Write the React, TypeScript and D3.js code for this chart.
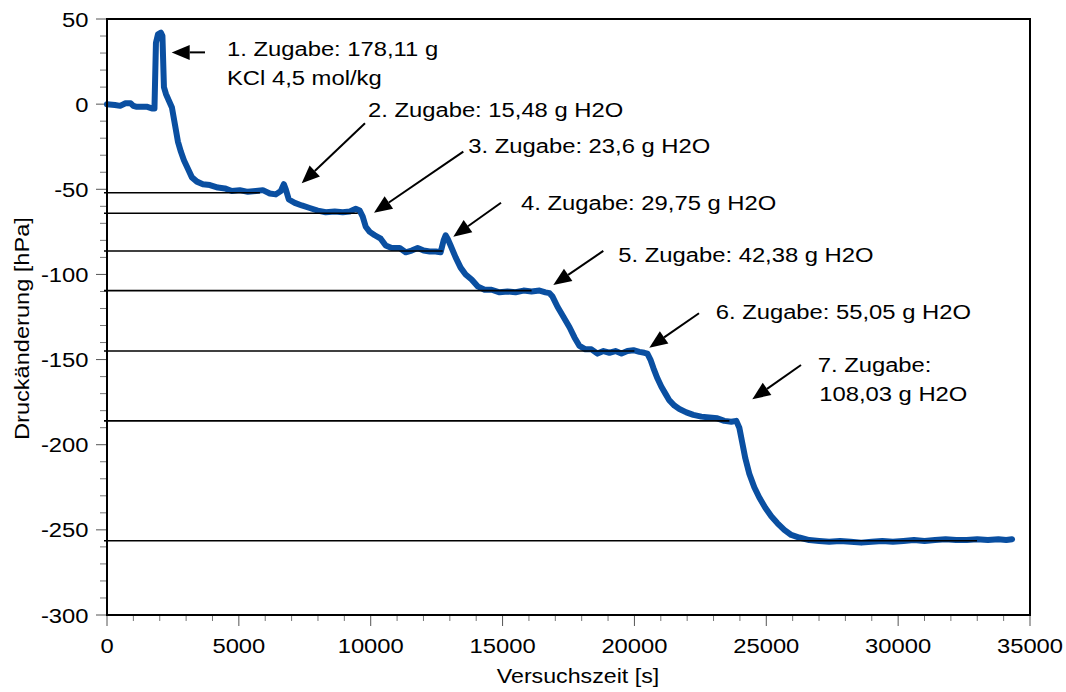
import React from 'react';
import * as d3 from 'd3';

// Pressure record: test time [s] and pressure change [hPa]
const timeS = [
  0, 300, 500, 700, 900, 1000, 1100, 1300, 1500, 1700, 1800,
  1856, 1932, 2045, 2102, 2159, 2235, 2348, 2462, 2576, 2689, 2803, 2917, 3068, 3220,
  3409, 3636, 3902, 4205, 4470, 4735, 5038, 5341, 5644, 5909, 6174, 6402, 6591, 6705,
  6780, 6894, 7121, 7386, 7689, 7992, 8295, 8636, 8939, 9205, 9432, 9583, 9697, 9811,
  9962, 10152, 10379, 10568, 10795, 11098, 11326, 11553, 11780, 12008, 12235, 12462,
  12652, 12765, 12841, 12917, 13030, 13220, 13409, 13599, 13826, 14053, 14318, 14583,
  14886, 15189, 15492, 15795, 16098, 16402, 16629, 16780, 16894, 17083, 17311, 17538,
  17727, 17917, 18144, 18371, 18599, 18826, 19053, 19280, 19508, 19735, 19962, 20189,
  20379, 20492, 20606, 20720, 20871, 21023, 21174, 21326, 21515, 21705, 21970, 22235,
  22538, 22841, 23144, 23409, 23674, 23864, 23977, 24091, 24205, 24356, 24545, 24735,
  24962, 25189, 25417, 25682, 25947, 26250, 26629, 27008, 27386, 27800, 28200, 28600,
  29000, 29400, 29800, 30200, 30600, 31000, 31400, 31800, 32200, 32600, 33000, 33400,
  33800, 34100, 34320,
];
const pressureHPa = [
  0, -0.5, -1, 0.5, 0.5, -1, -1.5, -1.5, -1.5, -2.5, -2.5,
  36, 41, 42, 40, 10, 6, 2, -2, -12, -22, -28, -33, -38, -43,
  -45.5, -47, -47.5, -49, -49.5, -51, -50.5, -51.5, -51, -50.5, -52.5, -53, -51, -47,
  -50, -56, -58, -59.5, -61, -62.5, -63.5, -63, -63.5, -63, -61.5, -62.5, -66, -72,
  -75, -77, -79, -83, -84.5, -84.5, -87, -86, -84.5, -86, -86.5, -86.5,
  -87, -80, -77, -79, -83, -90, -96, -100, -103, -107, -109, -109,
  -110.5, -110, -110.5, -109.5, -110, -109.5, -110.5, -111, -113, -119, -125, -131,
  -137, -142, -144, -144, -146.5, -145, -146, -145, -146.5, -145, -144.5, -145.5,
  -146, -146.5, -150, -155, -161, -166, -170, -174, -177, -179, -181, -182.5,
  -183.5, -184, -184.5, -186, -186.5, -186, -190, -199, -208, -217, -225, -231,
  -237, -242, -246, -250, -253, -254.5, -256, -256.5, -257, -256.5, -257, -257.5,
  -257, -256.5, -257, -256.5, -256, -256.5, -256, -255.5, -256, -256, -255.5, -256,
  -255.5, -256, -255.5,
];

// Reference levels after each addition: value [hPa] and end time [s]
const levelValues = [-52, -64.1, -86.2, -109.5, -145, -186, -256.4];
const levelEnds = [5800, 9510, 12730, 16100, 20000, 23600, 32990];

// Axis ticks
const xTicks = [0, 5000, 10000, 15000, 20000, 25000, 30000, 35000];
const xMinorStep = 1000;
const yTicks = [50, 0, -50, -100, -150, -200, -250, -300];
const yMinorStep = 10;

// Annotation texts (one entry per addition)
const noteLines = [
  ['1. Zugabe: 178,11 g', 'KCl 4,5 mol/kg'],
  ['2. Zugabe: 15,48 g H2O'],
  ['3. Zugabe: 23,6 g H2O'],
  ['4. Zugabe: 29,75 g H2O'],
  ['5. Zugabe: 42,38 g H2O'],
  ['6. Zugabe: 55,05 g H2O'],
  ['7. Zugabe:', '108,03 g H2O'],
];
// Text anchor in chart units [time, pressure]
const noteTextAt: [number, number][] = [
  [4550, 28.2], [9897, -7.4], [13700, -28.9], [15699, -62.2],
  [19389, -92.5], [23082, -126.4], [26950, -157.1],
];
// Arrow tail and tip in chart units
const arrowTail: [number, number][] = [
  [3716, 30.4], [9783, -11.25], [13511, -27.9], [14941, -57.9],
  [18820, -86.2], [22449, -122.8], [26317, -153.2],
];
const arrowTip: [number, number][] = [
  [2453, 30.4], [7383, -46.5], [10125, -63.75], [13132, -77.8],
  [16924, -106.2], [20564, -143.0], [24470, -173.3],
];

const W = 1066;
const H = 692;
const plot = { left: 107, right: 1030, top: 19, bottom: 615 };
const FONT = "'Liberation Sans', Arial, sans-serif";
const BLUE = '#0a4fa1';

function SText({ x, y, size = 20, anchor = 'start', rotate = 0, stretch = 1.16, children }: any) {
  return (
    <g transform={`translate(${x},${y}) rotate(${rotate}) scale(${stretch},1)`}>
      <text x={0} y={0} fontFamily={FONT} fontSize={size} textAnchor={anchor} fill="#000">
        {children}
      </text>
    </g>
  );
}

export default function App() {
  const x = d3.scaleLinear().domain([0, 35000]).range([plot.left, plot.right]);
  const y = d3.scaleLinear().domain([50, -300]).range([plot.top, plot.bottom]);

  const pts = timeS.map((t, i) => [t, pressureHPa[i]] as [number, number]);
  const linePath = d3
    .line<[number, number]>()
    .x((d) => x(d[0]))
    .y((d) => y(d[1]))(pts) as string;

  const xMinor = d3.range(0, 35000 + 1, xMinorStep).filter((v) => v % 5000 !== 0);
  const yMinor = d3.range(-300, 50 + 1, yMinorStep).filter((v) => v % 50 !== 0);

  const arrows = arrowTail.map((tail, i) => {
    const x1 = x(tail[0]);
    const y1 = y(tail[1]);
    const x2 = x(arrowTip[i][0]);
    const y2 = y(arrowTip[i][1]);
    const ang = Math.atan2(y2 - y1, x2 - x1);
    const len = 18;
    const hw = 7.5;
    const bx = x2 - len * Math.cos(ang);
    const by = y2 - len * Math.sin(ang);
    const px = -Math.sin(ang) * hw;
    const py = Math.cos(ang) * hw;
    return (
      <g key={`a${i}`}>
        <line x1={x1} y1={y1} x2={bx} y2={by} stroke="#000" strokeWidth={2} />
        <path d={`M${x2},${y2}L${bx + px},${by + py}L${bx - px},${by - py}Z`} fill="#000" />
      </g>
    );
  });

  return (
    <svg
      width={W}
      height={H}
      viewBox={`0 0 ${W} ${H}`}
      style={{ position: 'absolute', left: 0, top: 0, background: '#fff' }}
    >
      <rect x={0} y={0} width={W} height={H} fill="#fff" />

      {/* minor ticks */}
      {xMinor.map((v) => (
        <line key={`xm${v}`} x1={x(v)} x2={x(v)} y1={plot.bottom} y2={plot.bottom + 6} stroke="#777" strokeWidth={1} />
      ))}
      {yMinor.map((v) => (
        <line key={`ym${v}`} x1={plot.left - 7} x2={plot.left} y1={y(v)} y2={y(v)} stroke="#777" strokeWidth={1} />
      ))}
      {/* major ticks */}
      {xTicks.map((v) => (
        <line key={`xt${v}`} x1={x(v)} x2={x(v)} y1={plot.bottom} y2={plot.bottom + 11} stroke="#555" strokeWidth={1} />
      ))}
      {yTicks.map((v) => (
        <line key={`yt${v}`} x1={plot.left - 11} x2={plot.left} y1={y(v)} y2={y(v)} stroke="#555" strokeWidth={1} />
      ))}

      {/* pressure curve */}
      <path d={linePath} fill="none" stroke={BLUE} strokeWidth={6} strokeLinejoin="round" strokeLinecap="round" />

      {/* reference levels */}
      {levelValues.map((v, i) => (
        <line
          key={`lv${i}`}
          x1={plot.left - 3}
          x2={x(levelEnds[i])}
          y1={y(v)}
          y2={y(v)}
          stroke="#000"
          strokeWidth={1.6}
        />
      ))}

      {/* frame */}
      <rect
        x={plot.left}
        y={plot.top}
        width={plot.right - plot.left}
        height={plot.bottom - plot.top}
        fill="none"
        stroke="#000"
        strokeWidth={2}
      />

      {/* tick labels */}
      {xTicks.map((v) => (
        <SText key={`xl${v}`} x={x(v)} y={652.5} size={20.5} anchor="middle">
          {String(v)}
        </SText>
      ))}
      {yTicks.map((v) => (
        <SText key={`yl${v}`} x={88.5} y={y(v) + 7.5} size={20.5} anchor="end">
          {String(v)}
        </SText>
      ))}

      {/* axis titles */}
      <SText x={578} y={683} size={20} anchor="middle">
        Versuchszeit [s]
      </SText>
      <SText x={28.5} y={440} size={20} rotate={-90} stretch={1.18}>
        Druckänderung [hPa]
      </SText>

      {/* annotations */}
      {arrows}
      {noteLines.map((lines, i) =>
        lines.map((s, j) => (
          <SText
            key={`n${i}-${j}`}
            x={x(noteTextAt[i][0]) + (i === 6 && j === 1 ? 1.5 : 0)}
            y={y(noteTextAt[i][1]) + j * 29.3}
            size={20}
            stretch={1.19}
          >
            {s}
          </SText>
        ))
      )}
    </svg>
  );
}
